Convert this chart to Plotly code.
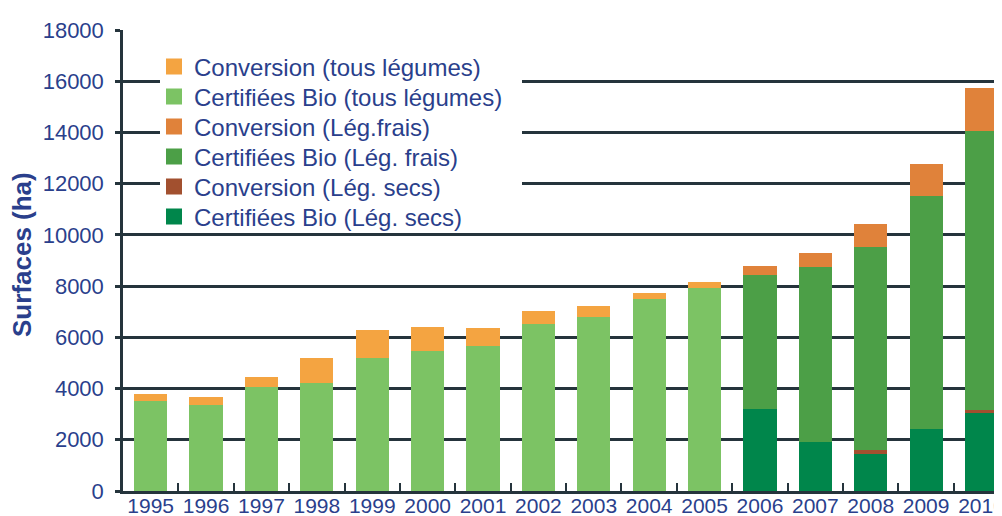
import plotly.graph_objects as go

years = [str(y) for y in range(1995, 2011)]

# Before 2006: all vegetables combined
cert_tous = [3520, 3360, 4060, 4210, 5190, 5460, 5650, 6520, 6780, 7490, 7920,
             None, None, None, None, None]
conv_tous = [260, 330, 400, 1000, 1090, 940, 730, 520, 440, 250, 250,
             None, None, None, None, None]
# From 2006: split into dry and fresh vegetables
cert_secs = [None] * 11 + [3190, 1900, 1445, 2410, 3060]
conv_secs = [None] * 11 + [0, 0, 155, 0, 105]
cert_frais = [None] * 11 + [5245, 6860, 7940, 9120, 10890]
conv_frais = [None] * 11 + [365, 545, 885, 1225, 1690]

C_CONV_TOUS = "#F4A441"
C_CERT_TOUS = "#7CC364"
C_CONV_FRAIS = "#E0823A"
C_CERT_FRAIS = "#4C9F47"
C_CONV_SECS = "#A2502F"
C_CERT_SECS = "#00864B"
TXT = "#2A3F8C"
LINE = "#25343C"

# page body has an 8px margin -> work in figure coordinates = screen - 8
ML, MT, PR, PB = 115, 22, 994, 483
PW, PH = PR - ML, PB - MT

fig = go.Figure()

stack = [
    ("Certifiées Bio (Lég. secs)", cert_secs, C_CERT_SECS),
    ("Conversion (Lég. secs)", conv_secs, C_CONV_SECS),
    ("Certifiées Bio (Lég. frais)", cert_frais, C_CERT_FRAIS),
    ("Conversion (Lég.frais)", conv_frais, C_CONV_FRAIS),
    ("Certifiées Bio (tous légumes)", cert_tous, C_CERT_TOUS),
    ("Conversion (tous légumes)", conv_tous, C_CONV_TOUS),
]
for name, vals, col in stack:
    fig.add_trace(go.Bar(x=years, y=vals, name=name, marker_color=col,
                         marker_line_width=0, showlegend=False, width=0.6))

legend_items = [
    ("Conversion (tous légumes)", C_CONV_TOUS),
    ("Certifiées Bio (tous légumes)", C_CERT_TOUS),
    ("Conversion (Lég.frais)", C_CONV_FRAIS),
    ("Certifiées Bio (Lég. frais)", C_CERT_FRAIS),
    ("Conversion (Lég. secs)", C_CONV_SECS),
    ("Certifiées Bio (Lég. secs)", C_CERT_SECS),
]
legend_layouts = {}
for i, (name, col) in enumerate(legend_items):
    key = "legend" if i == 0 else f"legend{i + 1}"
    fig.add_trace(go.Scatter(x=[None], y=[None], mode="markers", name=name,
                             legend=key,
                             marker=dict(symbol="square", size=16, color=col)))
    fy = 59 + 30 * i
    legend_layouts[key] = dict(
        x=(146 - ML) / PW, y=(PB - fy) / PH, xanchor="left", yanchor="middle",
        bgcolor="rgba(0,0,0,0)", borderwidth=0,
        font=dict(size=24, color=TXT, family="Liberation Sans, Arial, sans-serif"),
        itemsizing="trace")

fig.add_shape(type="rect", xref="paper", yref="paper",
              x0=(152 - ML) / PW, x1=(514 - ML) / PW,
              y0=(PB - 222) / PH, y1=(PB - 25) / PH,
              fillcolor="white", line_width=0, layer="above")

fig.add_annotation(text="<b>Surfaces (ha)</b>", xref="paper", yref="paper",
                   x=(14 - ML) / PW, y=(PB - 247) / PH,
                   xanchor="center", yanchor="middle", textangle=-90,
                   showarrow=False, font=dict(size=26, color=TXT))

fig.update_layout(
    width=1002, height=516,
    barmode="stack",
    margin=dict(l=ML, r=1002 - PR, t=MT, b=516 - PB, autoexpand=False),
    paper_bgcolor="white", plot_bgcolor="white",
    font=dict(family="Liberation Sans, Arial, sans-serif", color=TXT),
    xaxis=dict(type="category", range=[-0.5, 15.37], automargin=False,
               tickangle=0, ticklabelstandoff=-6,
               showline=True, linecolor=LINE, linewidth=2.5,
               ticks="inside", tickson="boundaries", ticklen=8,
               tickwidth=2, tickcolor=LINE,
               tickfont=dict(size=21, color=TXT), showgrid=False),
    yaxis=dict(range=[0, 18000], tickvals=list(range(0, 18001, 2000)),
               tickformat="d", automargin=False,
               showline=True, linecolor=LINE, linewidth=2.5,
               ticks="outside", ticklen=5, tickwidth=2.5, tickcolor=LINE,
               ticklabelstandoff=7,
               showgrid=True, gridcolor=LINE, gridwidth=2.5,
               tickfont=dict(size=22, color=TXT)),
    **legend_layouts,
)

fig.write_html("out.html")
